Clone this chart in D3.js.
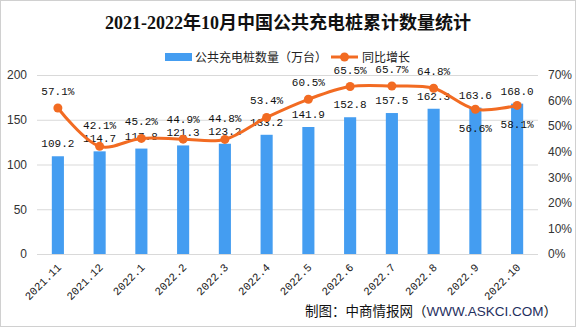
<!DOCTYPE html>
<html>
<head>
<meta charset="utf-8">
<script src="https://cdn.jsdelivr.net/npm/d3@7"></script>
<style>
	body{margin:0;background:#fff;}
	svg{display:block;}
	.grid line{stroke:#d9d9d9;stroke-width:1;}
	.tick text{fill:#333;}
</style>
</head>
<body>
<svg id="chart" width="576" height="327"></svg>
<script>
const months = ['2021.11','2021.12','2022.1','2022.2','2022.3','2022.4','2022.5','2022.6','2022.7','2022.8','2022.9','2022.10']
const piles = [109.2,114.7,117.8,121.3,123.2,133.2,141.9,152.8,157.5,162.3,163.6,168.0]
const growth = [57.1,42.1,45.2,44.9,44.8,53.4,60.5,65.5,65.7,64.8,56.6,58.1]
const left_ticks = [0,50,100,150,200]
const right_ticks = [0,10,20,30,40,50,60,70]
// labels drawn under the point instead of above
const below = ['2022.9','2022.10']

const blue = '#449df1'
const orange = '#f26b22'
const mono = '"Liberation Mono","Noto Sans CJK SC",monospace'

let margin = {top:75, right:38, bottom:73, left:37}
let width = 576 - margin.left - margin.right
let height = 327 - margin.top - margin.bottom

const svg = d3.select('#chart')

svg.append('rect')
	.attr('x',0.5).attr('y',0.5)
	.attr('width',575).attr('height',326)
	.attr('fill','#fff').attr('stroke','#d0d0d0')

svg.append('text')
	.text('2021-2022年10月中国公共充电桩累计数量统计')
	.attr('x',288).attr('y',29)
	.attr('text-anchor','middle')
	.attr('font-family','"Liberation Serif","Noto Sans CJK SC",serif')
	.attr('font-weight','bold')
	.attr('font-size',18)
	.attr('fill','#111')

const xScale = d3.scaleBand()
	.domain(months)
	.range([0,width])
	.paddingInner(0.71)
	.paddingOuter(0.355)

const yScale = d3.scaleLinear().domain([0,200]).range([height,0])
const y2Scale = d3.scaleLinear().domain([0,70]).range([height,0])

const chart = svg.append('g').attr('transform',`translate(${margin.left},${margin.top})`)

const grid = chart.append('g').classed('grid',true)
	.call(d3.axisLeft(yScale).tickValues(left_ticks).tickSize(-width).tickFormat(''))
grid.select('.domain').remove()

const axisY = chart.append('g')
	.call(d3.axisLeft(yScale).tickValues(left_ticks).tickSize(0).tickPadding(10))
axisY.select('.domain').remove()
axisY.selectAll('text').attr('font-family','"Liberation Sans",Arial,sans-serif').attr('font-size',12)

const axisY2 = chart.append('g')
	.attr('transform',`translate(${width},0)`)
	.call(d3.axisRight(y2Scale).tickValues(right_ticks).tickSize(0).tickPadding(10).tickFormat(d => d + '%'))
axisY2.select('.domain').remove()
axisY2.selectAll('text').attr('font-family','"Liberation Sans",Arial,sans-serif').attr('font-size',12)

const bars = chart.selectAll('.bar')
	.data(piles)
	.enter()
	.append('rect')
	.classed('bar',true)
	.attr('x',(d,i) => xScale(months[i]))
	.attr('y',d => yScale(d))
	.attr('width',xScale.bandwidth())
	.attr('height',d => height - yScale(d))
	.attr('fill',blue)

const cx = m => xScale(m) + xScale.bandwidth()/2
const valY = d => yScale(d) - 9

chart.selectAll('.vlabel')
	.data(piles)
	.enter()
	.append('text')
	.text(d => d.toFixed(1))
	.attr('x',(d,i) => cx(months[i]))
	.attr('y',valY)
	.attr('text-anchor','middle')
	.attr('font-family',mono)
	.attr('font-size',11)
	.attr('fill','#111')

const line = d3.line()
	.x((d,i) => cx(months[i]))
	.y(d => y2Scale(d))
	.curve(d3.curveCatmullRom)

chart.append('path')
	.datum(growth)
	.attr('d',line)
	.attr('fill','none')
	.attr('stroke',orange)
	.attr('stroke-width',3)

chart.selectAll('.dot')
	.data(growth)
	.enter()
	.append('circle')
	.attr('cx',(d,i) => cx(months[i]))
	.attr('cy',d => y2Scale(d))
	.attr('r',4.5)
	.attr('fill',orange)

// percent label: above the point, pushed up if it sits on the bar label
const pctY = (d,i) => {
	if(below.includes(months[i])) return y2Scale(d) + 23
	let y = y2Scale(d) - 13
	let v = valY(piles[i])
	if(Math.abs(v - y) < 11) y = v - 13
	return y
}

chart.selectAll('.plabel')
	.data(growth)
	.enter()
	.append('text')
	.text(d => d.toFixed(1) + '%')
	.attr('x',(d,i) => cx(months[i]))
	.attr('y',pctY)
	.attr('text-anchor','middle')
	.attr('font-family',mono)
	.attr('font-size',11)
	.attr('fill','#111')

chart.selectAll('.xlabel')
	.data(months)
	.enter()
	.append('text')
	.text(d => d)
	.attr('transform',d => `translate(${cx(d) + 4},${height + 14}) rotate(-45)`)
	.attr('text-anchor','end')
	.attr('font-family',mono)
	.attr('font-size',11)
	.attr('fill','#222')

/*legend*/
const legend = svg.append('g').attr('transform','translate(0,57)')
legend.append('rect')
	.attr('x',165).attr('y',-4).attr('width',27).attr('height',8)
	.attr('fill',blue)
legend.append('text')
	.text('公共充电桩数量（万台）')
	.attr('x',195).attr('y',4.5)
	.attr('font-family','"Noto Sans CJK SC",sans-serif')
	.attr('font-size',12)
	.attr('fill','#222')
legend.append('line')
	.attr('x1',331).attr('x2',358).attr('y1',0).attr('y2',0)
	.attr('stroke',orange).attr('stroke-width',3)
legend.append('circle')
	.attr('cx',344.5).attr('cy',0).attr('r',4.5)
	.attr('fill',orange)
legend.append('text')
	.text('同比增长')
	.attr('x',362).attr('y',4.5)
	.attr('font-family','"Noto Sans CJK SC",sans-serif')
	.attr('font-size',12)
	.attr('fill','#222')

/*source*/
const src = svg.append('text')
	.attr('x',305).attr('y',316)
	.attr('font-family','"Noto Sans CJK SC",sans-serif')
	.attr('font-size',13.5)
	.attr('fill','#111')
src.append('tspan').text('制图：中商情报网（')
src.append('tspan').text('WWW.ASKCI.COM').attr('fill','#1f2f5e').attr('font-family','"Liberation Sans",Arial,sans-serif')
src.append('tspan').text('）')
</script>
</body>
</html>
